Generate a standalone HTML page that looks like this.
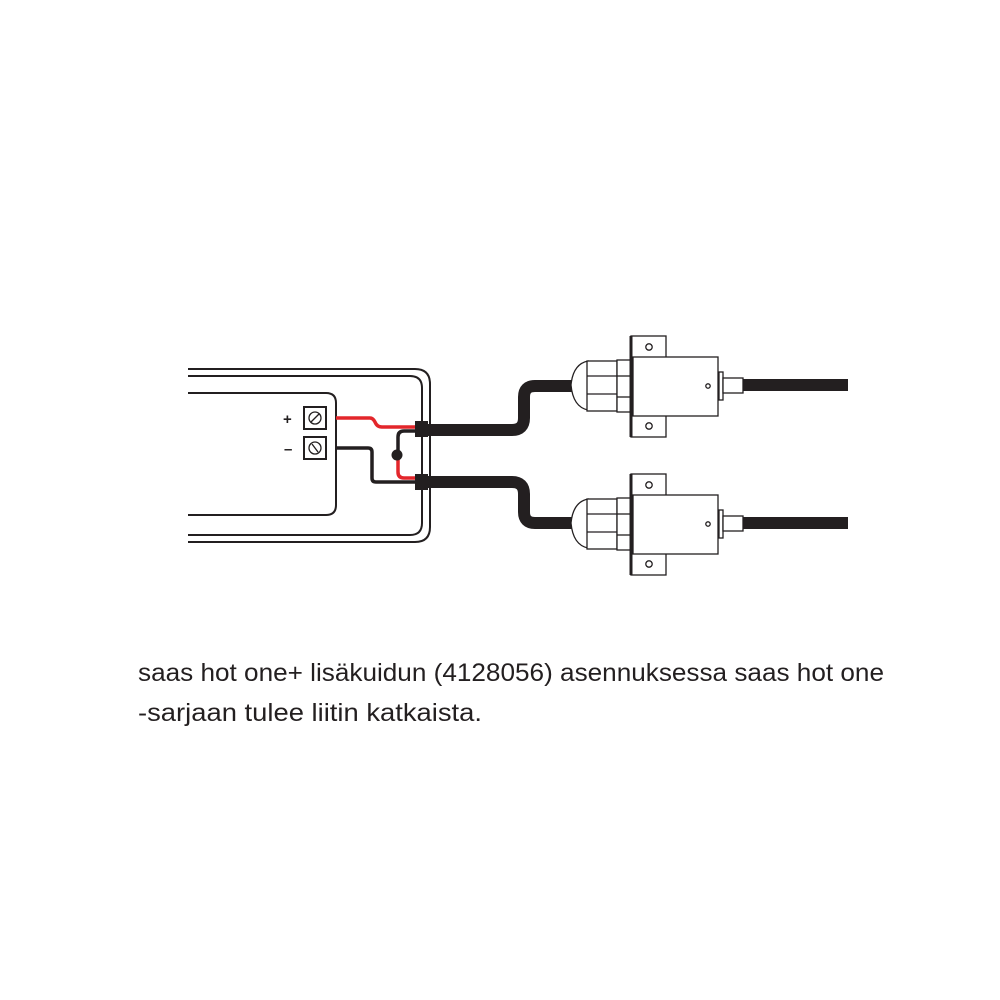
<!DOCTYPE html>
<html><head><meta charset="utf-8"><style>html,body{margin:0;padding:0;background:#fff}svg{display:block}</style></head>
<body>
<svg width="1000" height="1000" viewBox="0 0 1000 1000" xmlns="http://www.w3.org/2000/svg">
<rect width="1000" height="1000" fill="#fff"/>
<g fill="none" stroke="#231f20" stroke-width="2">
  <!-- outer housing double line -->
  <path d="M188 369 H415 Q430 369 430 384 V527 Q430 542 415 542 H188"/>
  <path d="M188 376 H410 Q422 376 422 388 V523 Q422 535 410 535 H188"/>
  <!-- inner box -->
  <path d="M188 393 H326 Q336 393 336 403 V505 Q336 515 326 515 H188"/>
  <!-- terminals -->
  <rect x="304" y="407" width="22" height="22"/>
  <rect x="304" y="437" width="22" height="22"/>
  <circle cx="315" cy="418" r="6" stroke-width="1.3"/>
  <circle cx="315" cy="448" r="6" stroke-width="1.3"/>
  <line x1="311" y1="422" x2="319" y2="414" stroke-width="1.3"/>
  <line x1="312" y1="444" x2="318" y2="452" stroke-width="1.3"/>
</g>
<text x="283" y="424" font-family="Liberation Sans, sans-serif" font-weight="bold" font-size="15" fill="#231f20">+</text>
<text x="284" y="454" font-family="Liberation Sans, sans-serif" font-weight="bold" font-size="15" fill="#231f20">–</text>
<!-- wires -->
<g fill="none" stroke-width="3.5" stroke-linejoin="round">
  <path d="M336 418 H370 Q373 418 375 422 Q377 427 382 427 H416" stroke="#e3262b"/>
  <path d="M336 448 H368 Q372 448 372 452 V478 Q372 482 376 482 H416" stroke="#231f20"/>
  <path d="M416 431 H404 Q398 431 398 437 V455" stroke="#231f20"/>
  <path d="M398 455 V472 Q398 478 404 478 H416" stroke="#e3262b"/>
</g>
<circle cx="397" cy="455" r="5.5" fill="#231f20"/>
<rect x="415" y="421" width="13" height="16" fill="#231f20"/>
<rect x="415" y="474" width="13" height="16" fill="#231f20"/>
<!-- cables -->
<g fill="none" stroke="#231f20" stroke-width="12">
  <path d="M428 430 H512 Q524 430 524 418 V397 Q524 386 535 386 H575"/>
  <path d="M428 482 H512 Q524 482 524 494 V512 Q524 523 535 523 H575"/>
  <path d="M742 385 H848"/>
  <path d="M742 523 H848"/>
</g>
<defs>
<g id="conn" fill="#fff" stroke="#231f20" stroke-width="1.3">
  <path d="M588 361 Q573 364 571 385 Q573 407 588 410 Z"/>
  <rect x="587" y="361" width="30" height="50"/>
  <line x1="587" y1="376" x2="617" y2="376"/>
  <line x1="587" y1="394" x2="617" y2="394"/>
  <rect x="617" y="360" width="14" height="52"/>
  <line x1="617" y1="376" x2="631" y2="376"/>
  <line x1="617" y1="397" x2="631" y2="397"/>
  <rect x="631" y="336" width="35" height="101"/>
  <line x1="631" y1="336" x2="631" y2="437" stroke-width="3"/>
  <rect x="633" y="357" width="85" height="59"/>
  <circle cx="649" cy="347" r="3.2"/>
  <circle cx="649" cy="426" r="3.2"/>
  <circle cx="708" cy="386" r="2.2"/>
  <rect x="719" y="372" width="4" height="28"/>
  <rect x="723" y="378" width="20" height="15"/>
</g>
</defs>
<use href="#conn"/>
<use href="#conn" transform="translate(0,138)"/>
<g font-family="Liberation Sans, sans-serif" font-size="25" fill="#231f20">
  <text x="138" y="681" textLength="746" lengthAdjust="spacingAndGlyphs">saas hot one+ lisäkuidun (4128056) asennuksessa saas hot one</text>
  <text x="138" y="721" textLength="344" lengthAdjust="spacingAndGlyphs">-sarjaan tulee liitin katkaista.</text>
</g>
</svg>
</body></html>
